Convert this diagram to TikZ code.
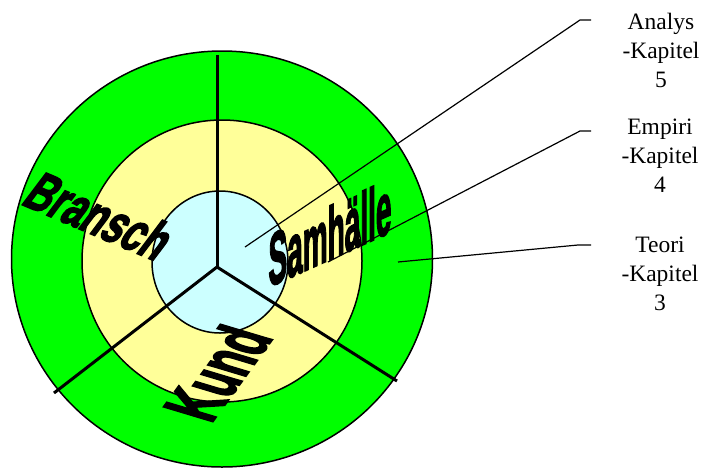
\documentclass[tikz,border=0pt]{standalone}
\usepackage{fontspec}
\setmainfont{Liberation Serif}
\newfontfamily\wafont{Liberation Sans}[UprightFont=* Bold,FakeBold=3]
\usepackage{xcolor}
\usepackage{tikz}
\usetikzlibrary{calc}

\definecolor{ringgreen}{HTML}{00FF00}
\definecolor{ringyellow}{HTML}{FFFF99}
\definecolor{ringcyan}{HTML}{CCFFFF}

\begin{document}
\begin{tikzpicture}[x=1pt,y=1pt,
   ring/.style={draw,line width=1.5pt},
   spoke/.style={line width=3pt},
   leader/.style={line width=1.2pt},
   kap/.style={align=center,inner sep=0pt,font=\fontsize{23.5}{29}\selectfont},
   wordart/.style={inner sep=0pt,transform shape,font=\wafont\fontsize{40}{40}\selectfont}]
  \useasboundingbox (0,0) rectangle (706,-469);
  \coordinate (mid) at (222,-259);
  \coordinate (hub) at (217,-267);
  % rings
  \draw[ring,fill=ringgreen] (mid) ellipse [x radius=210.5pt,y radius=208pt];
  \draw[ring,fill=ringyellow] ($(mid)+(0,-2)$) ellipse [x radius=140pt,y radius=141pt];
  \draw[ring,fill=ringcyan] ($(mid)+(-2,-3)$) ellipse [x radius=68pt,y radius=71pt];
  % spokes
  \coordinate (top) at (217,-55);
  \coordinate (lowleft) at (54,-393);
  \coordinate (lowright) at (397,-381);
  \draw[spoke] (hub) -- (top);
  \draw[spoke] (hub) -- (lowleft);
  \draw[spoke] (hub) -- (lowright);
  % word art
  \node[wordart,rotate=-23,xslant=0.25,xscale=0.92,yscale=1.4] (bransch) at (100,-216) {Bransch};
  \node[wordart,yslant=0.45,xscale=0.7,yscale=1.85] (samh) at (330,-233) {Samhälle};
  \node[wordart,rotate=54,xslant=-0.35,xscale=1.05,yscale=1.75] (kund) at (217,-373) {Kund};
  % chapter labels
  \node[kap] (analys) at (661,-50) {Analys\\-Kapitel\\5};
  \node[kap] (empiri) at (660,-156) {Empiri\\-Kapitel\\4};
  \node[kap] (teori) at (660,-274) {Teori\\-Kapitel\\3};
  % leaders
  \coordinate (a0) at (245,-247);
  \coordinate (a1) at (580,-20);
  \coordinate (a2) at (591,-20);
  \coordinate (e0) at (328,-262);
  \coordinate (e1) at (580,-131);
  \coordinate (e2) at (591,-131);
  \coordinate (t0) at (398,-262);
  \coordinate (t1) at (578,-245);
  \coordinate (t2) at (591,-245);
  \draw[leader] (a0) -- (a1) -- (a2);
  \draw[leader] (e0) -- (e1) -- (e2);
  \draw[leader] (t0) -- (t1) -- (t2);
\end{tikzpicture}
\end{document}
